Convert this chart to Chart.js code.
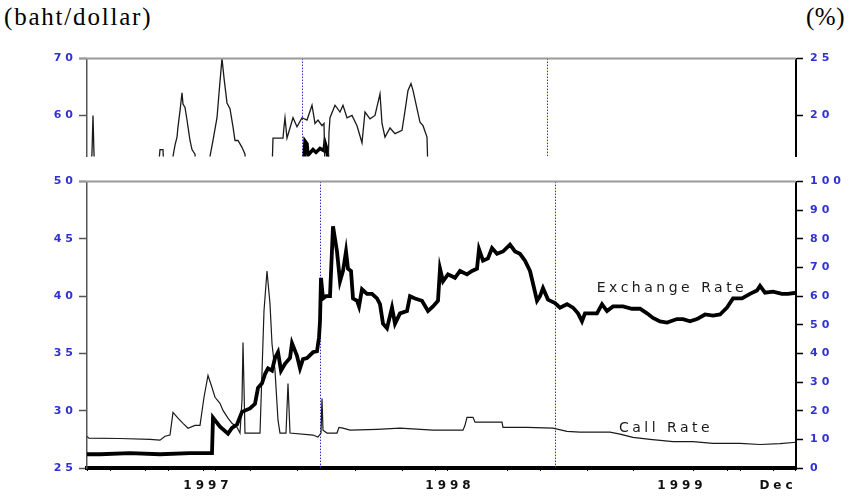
<!DOCTYPE html>
<html>
<head>
<meta charset="utf-8">
<title>Baht exchange rate and call rate</title>
<script src="https://cdn.jsdelivr.net/npm/chart.js@4.4.1/dist/chart.umd.min.js"></script>
<style>
  html, body { margin: 0; padding: 0; background: #fff; }
  #wrap { position: relative; width: 850px; height: 497px; overflow: hidden; }
  .unit { position: absolute; top: 3px; font-family: 'Liberation Serif', 'Times New Roman', serif; font-size: 25px; letter-spacing: 1.8px; color: #000; white-space: nowrap; }
  #unitL { left: 4px; }
  #unitR { left: 806px; letter-spacing: 0.5px; }
  #topBox { position: absolute; left: 0; top: 45px; width: 850px; height: 125px; }
  #botBox { position: absolute; left: 0; top: 168px; width: 850px; height: 329px; }
</style>
</head>
<body>
<div id="wrap">
  <div class="unit" id="unitL">(baht/dollar)</div>
  <div class="unit" id="unitR">(%)</div>
  <div id="topBox"><canvas id="topChart" width="850" height="125"></canvas></div>
  <div id="botBox"><canvas id="botChart" width="850" height="329"></canvas></div>
</div>

<script>
// observation index along the time axis (0 = start of mid-1996, 709 = Dec 1999)

// lower panel: exchange rate (baht/dollar, left axis)
const exT    = [0, 13, 43, 73, 103, 125, 126, 133, 141, 145, 150, 155, 163, 168, 171, 175, 178, 181, 185, 188, 191, 194, 198, 203, 205, 210, 213, 216, 220, 226, 230, 232, 233, 234, 236, 239, 243, 246, 250, 253, 256, 259, 261, 264, 266, 270, 272, 275, 280, 285, 290, 293, 296, 300, 305, 308, 313, 320, 323, 328, 335, 341, 346, 351, 353, 356, 361, 368, 373, 380, 385, 390, 392, 396, 401, 405, 410, 416, 423, 428, 433, 438, 443, 446, 450, 453, 456, 461, 468, 473, 480, 486, 491, 495, 498, 503, 510, 515, 520, 526, 536, 545, 553, 560, 566, 573, 580, 590, 596, 603, 610, 618, 626, 633, 640, 646, 655, 663, 670, 673, 678, 686, 695, 701, 709];
const exRate = [26.2, 26.2, 26.3, 26.2, 26.3, 26.3, 29.4, 28.6, 28.0, 28.5, 28.8, 29.9, 30.2, 30.6, 32.0, 32.4, 33.2, 33.7, 33.5, 34.6, 35.1, 33.5, 34.1, 34.6, 35.9, 34.8, 33.7, 34.5, 34.6, 35.1, 35.2, 36.4, 37.8, 41.6, 39.8, 40.0, 40.0, 46.1, 43.9, 41.3, 42.2, 43.9, 42.4, 42.2, 39.8, 39.6, 39.1, 40.6, 40.2, 40.2, 39.8, 39.3, 37.6, 37.2, 39.0, 37.6, 38.5, 38.7, 40.0, 39.8, 39.6, 38.7, 39.1, 39.6, 42.4, 41.3, 41.9, 41.6, 42.2, 41.9, 42.2, 42.4, 44.1, 43.1, 43.3, 44.2, 43.7, 43.9, 44.5, 43.9, 43.7, 43.1, 42.2, 41.1, 39.6, 40.0, 40.7, 39.7, 39.4, 39.0, 39.3, 39.0, 38.5, 37.8, 38.5, 38.5, 38.5, 39.3, 38.7, 39.1, 39.1, 38.9, 38.9, 38.5, 38.1, 37.8, 37.7, 38.0, 38.0, 37.8, 38.0, 38.4, 38.3, 38.4, 39.0, 39.8, 39.8, 40.2, 40.5, 40.9, 40.3, 40.4, 40.2, 40.2, 40.3];

// lower panel: call rate (%, right axis)
const callT    = [0, 2, 33, 63, 73, 78, 83, 86, 91, 96, 101, 108, 113, 117, 121, 125, 128, 133, 136, 141, 145, 150, 153, 155, 156, 158, 173, 177, 180, 183, 185, 188, 191, 193, 199, 201, 203, 226, 231, 234, 235, 236, 240, 250, 252, 256, 263, 290, 313, 346, 376, 378, 380, 386, 388, 415, 416, 440, 466, 480, 493, 523, 533, 546, 563, 586, 606, 626, 653, 673, 693, 709];
const callRate = [11.0, 10.4, 10.3, 10.0, 9.7, 11.1, 11.5, 19.4, 17.4, 15.6, 13.9, 14.9, 14.9, 24.7, 32.3, 28.1, 24.7, 22.6, 20.1, 17.4, 15.6, 14.2, 12.2, 23.6, 43.8, 12.2, 12.2, 54.9, 68.8, 57.3, 43.4, 34.0, 16.7, 12.2, 12.2, 29.5, 12.2, 11.5, 10.8, 12.2, 24.3, 13.2, 12.2, 12.2, 14.2, 13.9, 13.2, 13.5, 13.9, 13.2, 13.2, 14.9, 17.7, 17.7, 16.0, 16.0, 14.2, 14.2, 13.9, 12.8, 12.5, 12.5, 11.8, 10.7, 10.0, 9.2, 9.2, 8.6, 8.6, 8.2, 8.5, 9.0];

// upper panel: thin series (%, right axis) and thick series (baht/dollar, left axis)
const topT    = [0, 4, 5, 6, 7, 8, 71, 73, 76, 77, 85, 86, 88, 90, 91, 93, 95, 96, 98, 100, 101, 103, 105, 108, 109, 122, 123, 126, 130, 133, 135, 137, 140, 143, 146, 148, 151, 155, 158, 159, 185, 186, 196, 197, 198, 200, 203, 206, 210, 215, 220, 225, 228, 231, 235, 237, 238, 241, 242, 243, 248, 253, 256, 260, 265, 270, 275, 278, 283, 288, 293, 295, 298, 303, 308, 315, 318, 321, 324, 326, 330, 333, 336, 340, 341];
const topRate = [15, 15, 16.8, 20.0, 16.6, 15, 15, 17.0, 17.0, 15, 15, 16.4, 17.4, 18.1, 19.0, 20.4, 22.0, 21.0, 20.7, 19.6, 19.0, 17.8, 17.0, 16.6, 15, 15, 16.4, 17.8, 19.8, 23.0, 25.0, 23.3, 21.1, 20.6, 19.0, 17.8, 17.8, 17.2, 16.6, 15, 15, 18.0, 18.0, 19.0, 19.8, 18.0, 18.9, 19.8, 19.0, 19.8, 19.6, 20.9, 19.3, 19.6, 19.1, 19.3, 15, 15, 18.5, 19.8, 20.9, 20.3, 20.9, 19.8, 20.0, 19.1, 17.6, 20.3, 19.7, 20.0, 21.9, 19.3, 18.1, 18.9, 18.4, 18.7, 20.4, 22.2, 22.8, 22.2, 20.6, 19.4, 19.1, 18.1, 15];
const topExT  = [217, 218, 220, 221, 226, 229, 233, 237, 238, 240, 241];
const topExV  = [52.0, 55.5, 55.0, 53.0, 54.0, 53.5, 54.2, 53.8, 55.2, 54.0, 52.0];

// tick labels
const leftTicksTop  = [60, 70];
const rightTicksTop = [20, 25];
const xTickMarks = [0, 23, 58, 81, 116, 128, 163, 210, 268, 315, 348, 360, 420, 453, 500, 546, 606, 640, 653, 686, 708];
const xLabelPos  = [121, 363, 595, 691];
const xLabels    = ['1997', '1998', '1999', 'Dec'];

// dotted event markers
const botMarkers = [233, 468];
const topMarkers = [215, 460];

const tickBlue = '#3030d4';
const tickFont = { family: "'DejaVu Sans', sans-serif", size: 11, weight: 'bold' };

function pts(xs, ys) {
    return xs.map((x, i) => ({ x: x, y: ys[i] }));
}

const panelDecor = {
    id: 'panelDecor',
    beforeDraw(chart) {
        chart.ctx.letterSpacing = '4px';
    },
    beforeDatasetsDraw(chart, args, opts) {
        const { ctx, chartArea: a, scales } = chart;
        ctx.save();
        ctx.strokeStyle = '#2b2bc8';
        ctx.lineWidth = 1;
        ctx.setLineDash([1.5, 1.5]);
        opts.markers.forEach(t => {
            const x = Math.round(scales.x.getPixelForValue(t)) + 0.5;
            ctx.beginPath();
            ctx.moveTo(x, a.top);
            ctx.lineTo(x, a.bottom);
            ctx.stroke();
        });
        ctx.restore();
    },
    afterDraw(chart, args, opts) {
        const { ctx, chartArea: a, scales } = chart;
        ctx.save();
        // grey top frame line
        ctx.strokeStyle = '#9a9a9a';
        ctx.lineWidth = 2;
        ctx.beginPath();
        ctx.moveTo(a.left - 8, a.top);
        ctx.lineTo(a.right, a.top);
        ctx.stroke();
        // series names
        ctx.letterSpacing = '3.5px';
        ctx.fillStyle = '#1a1a1a';
        ctx.font = "14px 'DejaVu Sans', sans-serif";
        ctx.textAlign = 'center';
        ctx.textBaseline = 'middle';
        (opts.notes || []).forEach(n => {
            ctx.fillText(n.text, scales.x.getPixelForValue(n.t), scales[n.axis].getPixelForValue(n.v));
        });
        ctx.restore();
    }
};

function yAxis(pos, min, max, step, width, color, ticksList) {
    const ax = {
        type: 'linear',
        position: pos,
        min: min,
        max: max,
        afterFit: s => { s.width = width; },
        border: { display: true, color: color, width: pos === 'left' ? 1.5 : 2 },
        grid: { drawOnChartArea: false, drawTicks: true, tickLength: pos === 'left' ? 8 : 7, tickColor: color, tickWidth: 1.5 },
        ticks: { color: tickBlue, font: tickFont, padding: pos === 'left' ? 2 : 7, stepSize: step }
    };
    if (ticksList) {
        ax.afterBuildTicks = s => { s.ticks = ticksList.map(v => ({ value: v })); };
    }
    return ax;
}

// upper (overflow) panel
new Chart(document.getElementById('topChart'), {
    type: 'line',
    data: {
        datasets: [
            { data: pts(topT, topRate), yAxisID: 'yR', borderColor: '#1a1a1a', borderWidth: 1.3, pointRadius: 0, tension: 0 },
            { data: pts(topExT, topExV), yAxisID: 'yL', borderColor: '#000', borderWidth: 3.5, pointRadius: 0, tension: 0 }
        ]
    },
    options: {
        responsive: false,
        animation: false,
        events: [],
        layout: { padding: { top: 12, bottom: 3, left: 0, right: 0 } },
        plugins: { legend: { display: false }, tooltip: { enabled: false }, panelDecor: { markers: topMarkers } },
        scales: {
            x: { type: 'linear', min: 0, max: 709, display: false },
            yL: yAxis('left', 52.8, 70, 10, 87, '#555', leftTicksTop),
            yR: yAxis('right', 16.4, 25, 5, 54, '#000', rightTicksTop)
        }
    },
    plugins: [panelDecor]
});

// lower (main) panel
new Chart(document.getElementById('botChart'), {
    type: 'line',
    data: {
        datasets: [
            { label: 'Exchange Rate', data: pts(exT, exRate), yAxisID: 'yL', borderColor: '#000', borderWidth: 3.8, pointRadius: 0, tension: 0 },
            { label: 'Call Rate', data: pts(callT, callRate), yAxisID: 'yR', borderColor: '#1a1a1a', borderWidth: 1.2, pointRadius: 0, tension: 0 }
        ]
    },
    options: {
        responsive: false,
        animation: false,
        events: [],
        layout: { padding: { top: 6, bottom: 0, left: 0, right: 0 } },
        plugins: {
            legend: { display: false },
            tooltip: { enabled: false },
            panelDecor: {
                markers: botMarkers,
                notes: [
                    { text: 'Exchange Rate', t: 585, v: 40.7, axis: 'yL' },
                    { text: 'Call Rate', t: 579, v: 13.9, axis: 'yR' }
                ]
            }
        },
        scales: {
            x: {
                type: 'linear',
                min: 0,
                max: 709,
                afterFit: s => { s.height = 29; },
                afterBuildTicks: s => {
                    s.ticks = xTickMarks.concat(xLabelPos).map(v => ({ value: v }));
                },
                border: { display: true, color: '#000', width: 4 },
                grid: {
                    drawOnChartArea: false,
                    tickLength: 3,
                    tickColor: c => (c.tick && xLabelPos.includes(c.tick.value)) ? 'rgba(0,0,0,0)' : '#000'
                },
                ticks: {
                    autoSkip: false,
                    maxRotation: 0,
                    padding: 8,
                    color: '#111',
                    font: { family: "'DejaVu Sans', sans-serif", size: 12, weight: 'bold' },
                    callback: v => {
                        const i = xLabelPos.indexOf(v);
                        return i >= 0 ? xLabels[i] : '';
                    }
                }
            },
            yL: yAxis('left', 25, 50, 5, 87, '#555'),
            yR: yAxis('right', 0, 100, 10, 54, '#000')
        }
    },
    plugins: [panelDecor]
});
</script>
</body>
</html>
